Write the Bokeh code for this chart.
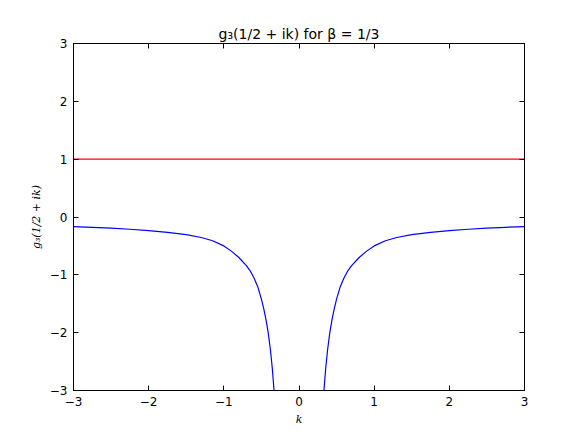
from bokeh.plotting import figure
from bokeh.models import LinearAxis, FixedTicker, Range1d
from bokeh.embed import file_html
from bokeh.resources import INLINE

# data
k_left = [-3.0, -2.75, -2.5, -2.25, -2.0, -1.75, -1.5, -1.3, -1.15, -1.0, -0.9, -0.8, -0.7,
          -0.65, -0.6, -0.55, -0.5, -0.47, -0.44, -0.41, -0.38, -0.355, -0.332]
g_left = [-0.165, -0.178, -0.193, -0.212, -0.235, -0.265, -0.305, -0.355, -0.41, -0.50, -0.59, -0.70, -0.84,
          -0.93, -1.05, -1.20, -1.42, -1.58, -1.77, -2.0, -2.3, -2.62, -3.0]
k_right = [0.332, 0.355, 0.38, 0.41, 0.44, 0.47, 0.5, 0.55, 0.6, 0.65, 0.7, 0.8, 0.9,
           1.0, 1.15, 1.3, 1.5, 1.75, 2.0, 2.25, 2.5, 2.75, 3.0]
g_right = [-3.0, -2.62, -2.3, -2.0, -1.77, -1.58, -1.42, -1.20, -1.05, -0.93, -0.84, -0.70, -0.59,
           -0.50, -0.41, -0.355, -0.305, -0.265, -0.235, -0.212, -0.193, -0.178, -0.165]
ref_k = [-3.0, 3.0]
ref_g = [1.0, 1.0]
ticks = [-3, -2, -1, 0, 1, 2, 3]
tick_labels = {-3: "\u22123", -2: "\u22122", -1: "\u22121", 0: "0", 1: "1", 2: "2", 3: "3"}

W, H = 575, 428
p = figure(width=W, height=H, output_backend="svg", toolbar_location=None,
           x_range=Range1d(-3, 3), y_range=Range1d(-3, 3),
           x_axis_location=None, y_axis_location=None)
p.min_border_left = 73
p.min_border_right = W - 524
p.min_border_top = 43
p.min_border_bottom = H - 392
p.xgrid.visible = False
p.ygrid.visible = False
p.outline_line_color = "black"
p.outline_line_width = 1
p.background_fill_color = "white"
p.border_fill_color = "white"

p.title.text = "g\u2083(1/2 + ik) for \u03b2 = 1/3"
p.title.align = "center"
p.title.text_font = "DejaVu Sans"
p.title.text_font_size = "14px"
p.title.text_font_style = "normal"
p.title.text_color = "black"
p.title.standoff = 3

def mk_axis(show_labels, label=None):
    ax = LinearAxis(ticker=FixedTicker(ticks=ticks))
    ax.major_label_overrides = tick_labels
    ax.major_tick_in = 5
    ax.major_tick_out = 0
    ax.minor_tick_line_color = None
    ax.axis_line_color = "black"
    ax.major_tick_line_color = "black"
    ax.major_label_text_font = "DejaVu Sans"
    ax.major_label_text_font_size = "12px"
    ax.major_label_text_color = "black"
    ax.major_label_standoff = 6
    if not show_labels:
        ax.major_label_text_color = None
        ax.major_label_text_font_size = "1px"
    if label:
        ax.axis_label = label
        ax.axis_label_text_font = "DejaVu Serif"
        ax.axis_label_text_font_style = "italic"
        ax.axis_label_text_font_size = "11px"
        ax.axis_label_text_color = "black"
        ax.axis_label_standoff = 4
    return ax

p.add_layout(mk_axis(True, "k"), "below")
p.add_layout(mk_axis(True, "g\u2083(1/2 + ik)"), "left")
p.add_layout(mk_axis(False), "above")
p.add_layout(mk_axis(False), "right")

p.line(ref_k, ref_g, line_color="#ff0000", line_width=1.2)
p.line(k_left, g_left, line_color="#0000ff", line_width=1.2)
p.line(k_right, g_right, line_color="#0000ff", line_width=1.2)

open("out.html", "w").write(file_html(p, INLINE))
